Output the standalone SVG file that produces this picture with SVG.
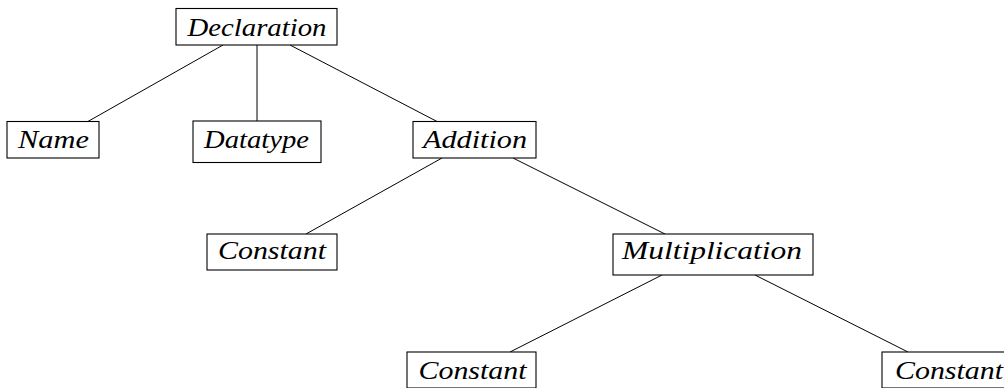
<svg xmlns="http://www.w3.org/2000/svg" width="1004" height="388" viewBox="0 0 1004 388">
<style>
.box{fill:#fff;stroke:#000;stroke-width:1.1}
text{font-family:"Liberation Serif",serif;font-style:italic;font-size:25px;fill:#000;text-anchor:middle}
line{stroke:#000;stroke-width:1}
</style>
<rect x="0" y="0" width="1004" height="388" style="fill:#fff;stroke:none"/>
<g id="connectors">
<line x1="223" y1="45" x2="87" y2="122"/>
<line x1="257" y1="45" x2="257" y2="121"/>
<line x1="290" y1="45" x2="438" y2="122"/>
<line x1="442" y1="158" x2="306" y2="234"/>
<line x1="513" y1="158" x2="665" y2="234"/>
<line x1="662" y1="275" x2="510" y2="352"/>
<line x1="755" y1="275" x2="908" y2="352"/>
</g>
<g id="declaration"><rect class="box" x="176" y="8.5" width="161" height="36.5"/><text x="257" y="36" textLength="139" lengthAdjust="spacingAndGlyphs">Declaration</text></g>
<g id="name"><rect class="box" x="7" y="121.5" width="92" height="36.5"/><text x="53.5" y="148" textLength="71" lengthAdjust="spacingAndGlyphs">Name</text></g>
<g id="datatype"><rect class="box" x="193" y="121" width="128" height="41.5"/><text x="256.5" y="148" textLength="105" lengthAdjust="spacingAndGlyphs">Datatype</text></g>
<g id="addition"><rect class="box" x="413" y="121.5" width="123" height="36.5"/><text x="475" y="148" textLength="104" lengthAdjust="spacingAndGlyphs">Addition</text></g>
<g id="constant1"><rect class="box" x="207" y="234" width="130" height="36"/><text x="272" y="259" textLength="108" lengthAdjust="spacingAndGlyphs">Constant</text></g>
<g id="multiplication"><rect class="box" x="613" y="234" width="200" height="41"/><text x="712" y="259" textLength="180" lengthAdjust="spacingAndGlyphs">Multiplication</text></g>
<g id="constant2"><rect class="box" x="407" y="352" width="129" height="36"/><text x="472.5" y="379" textLength="108" lengthAdjust="spacingAndGlyphs">Constant</text></g>
<g id="constant3"><rect class="box" x="882" y="352" width="129" height="36"/><text x="949" y="379" textLength="108" lengthAdjust="spacingAndGlyphs">Constant</text></g>
</svg>
